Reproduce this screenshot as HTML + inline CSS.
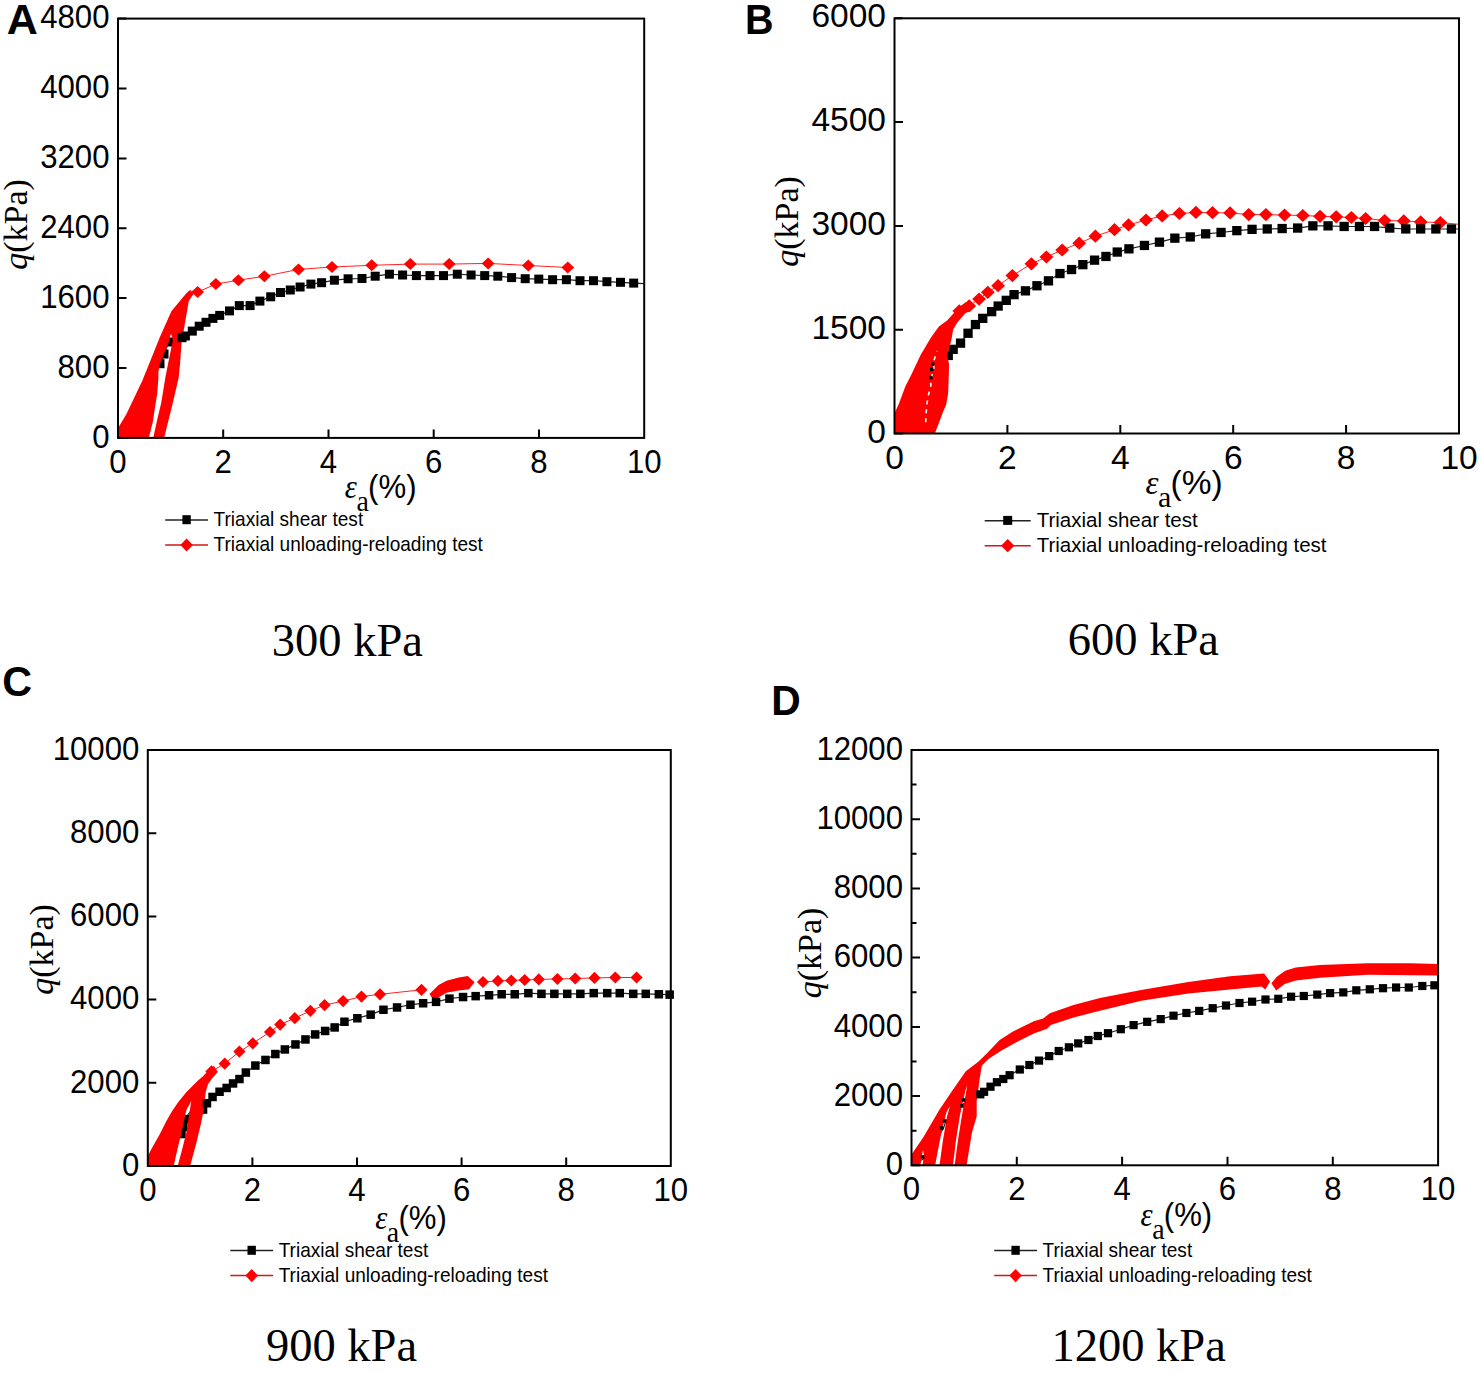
<!DOCTYPE html>
<html><head><meta charset="utf-8"><style>
html,body{margin:0;padding:0;background:#fff;}
svg{display:block;}
</style></head><body>
<svg width="1480" height="1373" viewBox="0 0 1480 1373">
<rect width="1480" height="1373" fill="#fff"/>
<polyline points="118.5,437 130,420 145,395 155,375 160,363.7 164,354 168.8,342 182,337.7 185.4,336 192.3,331.1 199.2,326.2 206,322.3 212.9,318.4 219.7,315.4 229.5,310.9 239.3,305.6 250.1,305.6 259.9,301.1 270.7,296.8 280.5,292.5 290.3,290 300.1,287 310.9,284.1 321.6,282.7 334.4,280.2 348.1,278.8 362,278.5 375.2,276.2 389.4,274.2 402.6,275 416.4,275.6 430,275.6 443.5,275.6 457.3,274.2 471.1,275 484.7,275.6 497.8,276.2 511.6,277.6 525.2,278.7 538.8,279.1 552.6,279.7 566.4,279.7 580,280.7 593.5,280.7 606.9,281.7 620.5,282.3 633.7,283.1 644,283.7" fill="none" stroke="#222" stroke-width="1.2"/>
<g fill="#000"><rect x="155.5" y="359.2" width="9" height="9"/><rect x="159.5" y="349.5" width="9" height="9"/><rect x="164.3" y="337.5" width="9" height="9"/></g>
<g fill="#f00" stroke="none">
<polygon points="118.2,437.9 117.5,429.1 126.2,414.6 142.2,381.1 153.9,351.9 159.7,337.4 171.4,311.2 185.9,293.7 190,290 193.5,294 188.8,301 181.5,343.2 180.1,363.6 178.6,378.1 172.8,402.9 164.1,437.9 153.2,437.9 157.6,418.1 161.2,402.9 165.5,376.7 169.9,354.8 172.8,340.3 171.4,334.5 170.4,334.8 168.8,342 164,354 160,363.7 158.4,371.7 158.4,378.1 157.2,394.1 155.2,406.1 152.8,422.1 148.8,437.9"/>
</g>
<polyline points="190,291 197.7,292 215.8,284.1 238.4,280.2 264.4,276.3 298.5,269.4 332,267 371.7,265.3 410.3,264.1 449.2,264.1 488.1,263.4 528.3,265.5 567.8,267.5" fill="none" stroke="#f22" stroke-width="1"/>
<g fill="#f00"><path d="M197.7 286L204.1 292L197.7 298L191.3 292Z"/><path d="M215.8 278.1L222.2 284.1L215.8 290.1L209.4 284.1Z"/><path d="M238.4 274.2L244.8 280.2L238.4 286.2L232 280.2Z"/><path d="M264.4 270.3L270.8 276.3L264.4 282.3L258 276.3Z"/><path d="M298.5 263.4L304.9 269.4L298.5 275.4L292.1 269.4Z"/><path d="M332 261L338.4 267L332 273L325.6 267Z"/><path d="M371.7 259.3L378.1 265.3L371.7 271.3L365.3 265.3Z"/><path d="M410.3 258.1L416.7 264.1L410.3 270.1L403.9 264.1Z"/><path d="M449.2 258.1L455.6 264.1L449.2 270.1L442.8 264.1Z"/><path d="M488.1 257.4L494.5 263.4L488.1 269.4L481.7 263.4Z"/><path d="M528.3 259.5L534.7 265.5L528.3 271.5L521.9 265.5Z"/><path d="M567.8 261.5L574.2 267.5L567.8 273.5L561.4 267.5Z"/></g>
<g fill="#000"><rect x="177.5" y="333.2" width="9" height="9"/><rect x="180.9" y="331.5" width="9" height="9"/><rect x="187.8" y="326.6" width="9" height="9"/><rect x="194.7" y="321.7" width="9" height="9"/><rect x="201.5" y="317.8" width="9" height="9"/><rect x="208.4" y="313.9" width="9" height="9"/><rect x="215.2" y="310.9" width="9" height="9"/><rect x="225" y="306.4" width="9" height="9"/><rect x="234.8" y="301.1" width="9" height="9"/><rect x="245.6" y="301.1" width="9" height="9"/><rect x="255.4" y="296.6" width="9" height="9"/><rect x="266.2" y="292.3" width="9" height="9"/><rect x="276" y="288" width="9" height="9"/><rect x="285.8" y="285.5" width="9" height="9"/><rect x="295.6" y="282.5" width="9" height="9"/><rect x="306.4" y="279.6" width="9" height="9"/><rect x="317.1" y="278.2" width="9" height="9"/><rect x="329.9" y="275.7" width="9" height="9"/><rect x="343.6" y="274.3" width="9" height="9"/><rect x="357.5" y="274" width="9" height="9"/><rect x="370.7" y="271.7" width="9" height="9"/><rect x="384.9" y="269.7" width="9" height="9"/><rect x="398.1" y="270.5" width="9" height="9"/><rect x="411.9" y="271.1" width="9" height="9"/><rect x="425.5" y="271.1" width="9" height="9"/><rect x="439" y="271.1" width="9" height="9"/><rect x="452.8" y="269.7" width="9" height="9"/><rect x="466.6" y="270.5" width="9" height="9"/><rect x="480.2" y="271.1" width="9" height="9"/><rect x="493.3" y="271.7" width="9" height="9"/><rect x="507.1" y="273.1" width="9" height="9"/><rect x="520.7" y="274.2" width="9" height="9"/><rect x="534.3" y="274.6" width="9" height="9"/><rect x="548.1" y="275.2" width="9" height="9"/><rect x="561.9" y="275.2" width="9" height="9"/><rect x="575.5" y="276.2" width="9" height="9"/><rect x="589" y="276.2" width="9" height="9"/><rect x="602.4" y="277.2" width="9" height="9"/><rect x="616" y="277.8" width="9" height="9"/><rect x="629.2" y="278.6" width="9" height="9"/></g>
<rect x="118" y="18.6" width="526.2" height="419.3" fill="none" stroke="#000" stroke-width="2"/>
<path d="M223.2 437.9V429.4M328.5 437.9V429.4M433.7 437.9V429.4M539 437.9V429.4M118 437.9H126.5M118 368H126.5M118 298.1H126.5M118 228.3H126.5M118 158.4H126.5M118 88.5H126.5M118 18.6H126.5" stroke="#000" stroke-width="2" fill="none"/>
<text transform="translate(109.5 447.5) scale(0.93 1)" text-anchor="end" font-family='"Liberation Sans", sans-serif' font-size="33.5">0</text>
<text transform="translate(109.5 377.6) scale(0.93 1)" text-anchor="end" font-family='"Liberation Sans", sans-serif' font-size="33.5">800</text>
<text transform="translate(109.5 307.7) scale(0.93 1)" text-anchor="end" font-family='"Liberation Sans", sans-serif' font-size="33.5">1600</text>
<text transform="translate(109.5 237.9) scale(0.93 1)" text-anchor="end" font-family='"Liberation Sans", sans-serif' font-size="33.5">2400</text>
<text transform="translate(109.5 168) scale(0.93 1)" text-anchor="end" font-family='"Liberation Sans", sans-serif' font-size="33.5">3200</text>
<text transform="translate(109.5 98.1) scale(0.93 1)" text-anchor="end" font-family='"Liberation Sans", sans-serif' font-size="33.5">4000</text>
<text transform="translate(109.5 28.2) scale(0.93 1)" text-anchor="end" font-family='"Liberation Sans", sans-serif' font-size="33.5">4800</text>
<text transform="translate(118 473.1) scale(0.93 1)" text-anchor="middle" font-family='"Liberation Sans", sans-serif' font-size="33.5">0</text>
<text transform="translate(223.2 473.1) scale(0.93 1)" text-anchor="middle" font-family='"Liberation Sans", sans-serif' font-size="33.5">2</text>
<text transform="translate(328.5 473.1) scale(0.93 1)" text-anchor="middle" font-family='"Liberation Sans", sans-serif' font-size="33.5">4</text>
<text transform="translate(433.7 473.1) scale(0.93 1)" text-anchor="middle" font-family='"Liberation Sans", sans-serif' font-size="33.5">6</text>
<text transform="translate(539 473.1) scale(0.93 1)" text-anchor="middle" font-family='"Liberation Sans", sans-serif' font-size="33.5">8</text>
<text transform="translate(644.2 473.1) scale(0.93 1)" text-anchor="middle" font-family='"Liberation Sans", sans-serif' font-size="33.5">10</text>
<text transform="translate(6.7 33.8) scale(1 1)" font-family='"Liberation Sans", sans-serif' font-weight="bold" font-size="43">A</text>
<text transform="translate(27.2 224.4) rotate(-90)" text-anchor="middle" font-family='"Liberation Serif", serif' font-size="34"><tspan font-style="italic">q</tspan>(kPa)</text>
<g transform="translate(345.5 498.1) scale(0.93 1)">
<text x="-0.7" y="0" font-family='"Liberation Serif", serif' font-size="33" font-style="italic">ε</text>
<text x="11.8" y="13.2" font-family='"Liberation Serif", serif' font-size="30">a</text>
<text x="24.3" y="0" font-family='"Liberation Sans", sans-serif' font-size="33.5">(%)</text>
</g>
<g transform="translate(165.2 520) scale(0.93 1)">
<path d="M0 0H46" stroke="#222" stroke-width="1.5"/>
<g fill="#000"><rect x="18.5" y="-4.8" width="9" height="9"/></g>
<path d="M0 25H46" stroke="#d01818" stroke-width="1.5"/>
<g fill="#f00"><path d="M23 18.4L29.7 25L23 31.6L16.3 25Z"/></g>
<text x="52" y="6.3" font-family='"Liberation Sans", sans-serif' font-size="20.5">Triaxial shear test</text>
<text x="52" y="31.3" font-family='"Liberation Sans", sans-serif' font-size="20.5">Triaxial unloading-reloading test</text>
</g>
<text x="271.8" y="656" font-family='"Liberation Serif", serif' font-size="46.5">300 kPa</text>
<polyline points="894.5,433 905,420 915,400 925,385 930.8,377.7 932,369 934.5,361.6 960.5,343.1 968,333.2 975.4,324.5 982.8,318.3 991.6,311.6 998.1,306 1006.2,300.3 1014,294.6 1025.4,290.9 1037,285.7 1048.4,280.8 1060,273.5 1071.6,269.5 1082.9,264.6 1094.6,260.1 1106,256.5 1117.3,252.1 1129,248.9 1144.4,245.5 1159.5,242.2 1174.9,238.2 1190.3,237 1205.7,233.8 1221.1,232.5 1236.9,230.7 1252.1,229.3 1267.3,229 1282.2,228.6 1297.7,228.1 1312.9,225.9 1328.1,225.9 1344.2,226.5 1359.4,226.5 1374.6,226.5 1389.8,228.1 1405.8,229 1420.7,229 1435.9,229 1451.4,229 1459,229" fill="none" stroke="#222" stroke-width="1.2"/>
<g fill="#000"><rect x="943.6" y="350.8" width="9.3" height="9.3"/><rect x="948.5" y="344.7" width="9.3" height="9.3"/></g>
<g fill="#f00" stroke="none">
<polygon points="894.5,433.5 894.1,414.2 899.2,403 905.3,386.6 911.4,374.4 920.6,355 930.8,337.7 938.9,326.5 947.1,320.4 959.3,307.1 966,302 969.5,311.2 965.4,313.3 957.3,322.4 953.2,329.6 951.2,340.8 947.1,355 949.1,364.2 948.6,381.5 948.1,393.8 946.1,405 943,412.1 934.9,433.5"/>
</g>
<polyline points="925.7,422.3 926.7,405 928.7,393.8 930.8,385.6 930.8,379.5 933.8,368.3 933.8,361.2 936.9,351" fill="none" stroke="#fff" stroke-width="1.6" stroke-dasharray="4 5"/>
<g fill="#000"><rect x="930" y="367.6" width="3.5" height="3.5"/><rect x="929" y="375.8" width="3.5" height="3.5"/><rect x="931" y="362.4" width="3.5" height="3.5"/></g>
<polyline points="959.3,310.9 969.2,305.9 979.1,299.1 987.8,292.3 998.1,285.7 1012.4,275.6 1031.4,263.8 1046.4,257 1062.2,250 1079.2,243.2 1095.4,236.2 1114.5,229.7 1128.6,224.9 1146,220 1162.2,215.9 1179.4,213.5 1195.9,212.4 1212.5,212.7 1230.1,212.9 1248.7,214.6 1265.9,214.6 1284.5,215.1 1302.8,215.5 1320,216.3 1336.2,216.8 1351.4,217.5 1365.6,218.5 1384.7,220.5 1403.8,220.9 1420.7,221.9 1440.4,222.6 1459,224.3" fill="none" stroke="#f22" stroke-width="1"/>
<g fill="#f00"><path d="M959.3 304.3L966.2 310.9L959.3 317.5L952.4 310.9Z"/><path d="M969.2 299.3L976.1 305.9L969.2 312.5L962.3 305.9Z"/><path d="M979.1 292.5L986 299.1L979.1 305.7L972.2 299.1Z"/><path d="M987.8 285.7L994.7 292.3L987.8 298.9L980.9 292.3Z"/><path d="M998.1 279.1L1005 285.7L998.1 292.3L991.2 285.7Z"/><path d="M1012.4 269L1019.3 275.6L1012.4 282.2L1005.5 275.6Z"/><path d="M1031.4 257.2L1038.3 263.8L1031.4 270.4L1024.5 263.8Z"/><path d="M1046.4 250.4L1053.3 257L1046.4 263.6L1039.5 257Z"/><path d="M1062.2 243.4L1069.1 250L1062.2 256.6L1055.3 250Z"/><path d="M1079.2 236.6L1086.1 243.2L1079.2 249.8L1072.3 243.2Z"/><path d="M1095.4 229.6L1102.3 236.2L1095.4 242.8L1088.5 236.2Z"/><path d="M1114.5 223.1L1121.4 229.7L1114.5 236.3L1107.6 229.7Z"/><path d="M1128.6 218.3L1135.5 224.9L1128.6 231.5L1121.7 224.9Z"/><path d="M1146 213.4L1152.9 220L1146 226.6L1139.1 220Z"/><path d="M1162.2 209.3L1169.1 215.9L1162.2 222.5L1155.3 215.9Z"/><path d="M1179.4 206.9L1186.3 213.5L1179.4 220.1L1172.5 213.5Z"/><path d="M1195.9 205.8L1202.8 212.4L1195.9 219L1189 212.4Z"/><path d="M1212.5 206.1L1219.4 212.7L1212.5 219.3L1205.6 212.7Z"/><path d="M1230.1 206.3L1237 212.9L1230.1 219.5L1223.2 212.9Z"/><path d="M1248.7 208L1255.6 214.6L1248.7 221.2L1241.8 214.6Z"/><path d="M1265.9 208L1272.8 214.6L1265.9 221.2L1259 214.6Z"/><path d="M1284.5 208.5L1291.4 215.1L1284.5 221.7L1277.6 215.1Z"/><path d="M1302.8 208.9L1309.7 215.5L1302.8 222.1L1295.9 215.5Z"/><path d="M1320 209.7L1326.9 216.3L1320 222.9L1313.1 216.3Z"/><path d="M1336.2 210.2L1343.1 216.8L1336.2 223.4L1329.3 216.8Z"/><path d="M1351.4 210.9L1358.3 217.5L1351.4 224.1L1344.5 217.5Z"/><path d="M1365.6 211.9L1372.5 218.5L1365.6 225.1L1358.7 218.5Z"/><path d="M1384.7 213.9L1391.6 220.5L1384.7 227.1L1377.8 220.5Z"/><path d="M1403.8 214.3L1410.7 220.9L1403.8 227.5L1396.9 220.9Z"/><path d="M1420.7 215.3L1427.6 221.9L1420.7 228.5L1413.8 221.9Z"/><path d="M1440.4 216L1447.3 222.6L1440.4 229.2L1433.5 222.6Z"/></g>
<g fill="#000"><rect x="955.9" y="338.5" width="9.3" height="9.3"/><rect x="963.4" y="328.6" width="9.3" height="9.3"/><rect x="970.8" y="319.9" width="9.3" height="9.3"/><rect x="978.1" y="313.7" width="9.3" height="9.3"/><rect x="987" y="307" width="9.3" height="9.3"/><rect x="993.5" y="301.4" width="9.3" height="9.3"/><rect x="1001.6" y="295.7" width="9.3" height="9.3"/><rect x="1009.4" y="290" width="9.3" height="9.3"/><rect x="1020.8" y="286.2" width="9.3" height="9.3"/><rect x="1032.3" y="281.1" width="9.3" height="9.3"/><rect x="1043.8" y="276.2" width="9.3" height="9.3"/><rect x="1055.3" y="268.9" width="9.3" height="9.3"/><rect x="1066.9" y="264.9" width="9.3" height="9.3"/><rect x="1078.2" y="260" width="9.3" height="9.3"/><rect x="1089.9" y="255.5" width="9.3" height="9.3"/><rect x="1101.3" y="251.8" width="9.3" height="9.3"/><rect x="1112.6" y="247.4" width="9.3" height="9.3"/><rect x="1124.3" y="244.2" width="9.3" height="9.3"/><rect x="1139.8" y="240.8" width="9.3" height="9.3"/><rect x="1154.8" y="237.5" width="9.3" height="9.3"/><rect x="1170.2" y="233.5" width="9.3" height="9.3"/><rect x="1185.6" y="232.3" width="9.3" height="9.3"/><rect x="1201" y="229.2" width="9.3" height="9.3"/><rect x="1216.4" y="227.8" width="9.3" height="9.3"/><rect x="1232.2" y="226" width="9.3" height="9.3"/><rect x="1247.4" y="224.7" width="9.3" height="9.3"/><rect x="1262.6" y="224.3" width="9.3" height="9.3"/><rect x="1277.5" y="223.9" width="9.3" height="9.3"/><rect x="1293" y="223.4" width="9.3" height="9.3"/><rect x="1308.2" y="221.2" width="9.3" height="9.3"/><rect x="1323.4" y="221.2" width="9.3" height="9.3"/><rect x="1339.5" y="221.8" width="9.3" height="9.3"/><rect x="1354.8" y="221.8" width="9.3" height="9.3"/><rect x="1369.9" y="221.8" width="9.3" height="9.3"/><rect x="1385.1" y="223.4" width="9.3" height="9.3"/><rect x="1401.1" y="224.3" width="9.3" height="9.3"/><rect x="1416" y="224.3" width="9.3" height="9.3"/><rect x="1431.2" y="224.3" width="9.3" height="9.3"/><rect x="1446.8" y="224.3" width="9.3" height="9.3"/></g>
<rect x="894.5" y="18.3" width="564.5" height="415.2" fill="none" stroke="#000" stroke-width="2"/>
<path d="M1007.4 433.5V425M1120.3 433.5V425M1233.2 433.5V425M1346.1 433.5V425M894.5 433.5H903M894.5 329.7H903M894.5 225.9H903M894.5 122.1H903M894.5 18.3H903" stroke="#000" stroke-width="2" fill="none"/>
<text transform="translate(886 442.6) scale(1.0 1)" text-anchor="end" font-family='"Liberation Sans", sans-serif' font-size="33.5">0</text>
<text transform="translate(886 338.8) scale(1.0 1)" text-anchor="end" font-family='"Liberation Sans", sans-serif' font-size="33.5">1500</text>
<text transform="translate(886 235) scale(1.0 1)" text-anchor="end" font-family='"Liberation Sans", sans-serif' font-size="33.5">3000</text>
<text transform="translate(886 131.2) scale(1.0 1)" text-anchor="end" font-family='"Liberation Sans", sans-serif' font-size="33.5">4500</text>
<text transform="translate(886 27.4) scale(1.0 1)" text-anchor="end" font-family='"Liberation Sans", sans-serif' font-size="33.5">6000</text>
<text transform="translate(894.5 468.5) scale(1.0 1)" text-anchor="middle" font-family='"Liberation Sans", sans-serif' font-size="33.5">0</text>
<text transform="translate(1007.4 468.5) scale(1.0 1)" text-anchor="middle" font-family='"Liberation Sans", sans-serif' font-size="33.5">2</text>
<text transform="translate(1120.3 468.5) scale(1.0 1)" text-anchor="middle" font-family='"Liberation Sans", sans-serif' font-size="33.5">4</text>
<text transform="translate(1233.2 468.5) scale(1.0 1)" text-anchor="middle" font-family='"Liberation Sans", sans-serif' font-size="33.5">6</text>
<text transform="translate(1346.1 468.5) scale(1.0 1)" text-anchor="middle" font-family='"Liberation Sans", sans-serif' font-size="33.5">8</text>
<text transform="translate(1459 468.5) scale(1.0 1)" text-anchor="middle" font-family='"Liberation Sans", sans-serif' font-size="33.5">10</text>
<text transform="translate(744.9 34) scale(0.92 1)" font-family='"Liberation Sans", sans-serif' font-weight="bold" font-size="43">B</text>
<text transform="translate(797.6 221.4) rotate(-90)" text-anchor="middle" font-family='"Liberation Serif", serif' font-size="34"><tspan font-style="italic">q</tspan>(kPa)</text>
<g transform="translate(1146.2 493.8) scale(1.0 1)">
<text x="-0.7" y="0" font-family='"Liberation Serif", serif' font-size="33" font-style="italic">ε</text>
<text x="11.8" y="13.2" font-family='"Liberation Serif", serif' font-size="30">a</text>
<text x="24.3" y="0" font-family='"Liberation Sans", sans-serif' font-size="33.5">(%)</text>
</g>
<g transform="translate(984.7 520.7) scale(1.0 1)">
<path d="M0 0H46" stroke="#222" stroke-width="1.5"/>
<g fill="#000"><rect x="18.5" y="-4.8" width="9" height="9"/></g>
<path d="M0 25H46" stroke="#d01818" stroke-width="1.5"/>
<g fill="#f00"><path d="M23 18.4L29.7 25L23 31.6L16.3 25Z"/></g>
<text x="52" y="6.3" font-family='"Liberation Sans", sans-serif' font-size="20.5">Triaxial shear test</text>
<text x="52" y="31.3" font-family='"Liberation Sans", sans-serif' font-size="20.5">Triaxial unloading-reloading test</text>
</g>
<text x="1067.8" y="655.4" font-family='"Liberation Serif", serif' font-size="46.5">600 kPa</text>
<polyline points="148,1165 160,1148 172,1133 183.3,1121.1 190,1112 206.9,1103.2 212.6,1096.9 219.6,1091.8 226.7,1087.9 233,1083.5 239.4,1079 245.8,1072.6 255.3,1065.6 265.5,1059.9 275.4,1054 284.9,1049.4 295.5,1044.4 305.5,1039.5 315.1,1034.5 325.1,1030.9 334.6,1027.4 344.5,1021.7 357.3,1018.2 370.7,1014.6 383.5,1009.7 397,1007.5 410.5,1004.7 423.2,1003.3 436,1001.9 449.5,998.6 463,997 475.6,996.1 489,995.3 501.6,994.3 514.7,994.3 528.4,993.1 541.5,993.9 554.4,993.9 567.3,993.9 580.4,993.9 593.8,993.1 607.2,993.1 619.8,993.1 633.2,993.9 645.8,993.9 658.9,994.3 669.6,994.6" fill="none" stroke="#222" stroke-width="1.2"/>
<g fill="#000"><rect x="181.4" y="1115" width="8.5" height="8.5"/><rect x="179.1" y="1122.8" width="8.5" height="8.5"/><rect x="177.2" y="1129.8" width="8.5" height="8.5"/><rect x="198.8" y="1105.3" width="8.5" height="8.5"/></g>
<g fill="#f00" stroke="none">
<polygon points="147.8,1166 147.6,1156.2 152.8,1146.5 160,1133.7 166.4,1120.9 172,1111.3 178.5,1101.7 186.5,1092 197.7,1080.8 203.3,1076 211.3,1067.2 214,1066 217.7,1072 212.1,1078.4 208.1,1084 205.7,1092.1 204.1,1108.1 200.9,1124.1 196.1,1144.1 190.1,1166 177.7,1166 182.5,1148.1 186.5,1132.1 188.9,1116.1 191.3,1101 190.5,1102.5 186.5,1109.7 183.3,1124.1 180.9,1135.3 177.7,1148.1 173.7,1166"/>
<polygon points="429.5,994.1 438.6,985 446.5,980.7 458.7,977.6 467.8,976.1 474.5,982.2 469,989.2 458.7,990.4 446.5,992.8 439.2,997.1 434.3,1001.4"/>
</g>
<polyline points="211.4,1071.4 224.7,1063.7 239.4,1051.6 252.8,1043.3 270,1032 280.2,1024.6 294.8,1018.2 310.4,1010.8 324.6,1005.1 343.1,1001.1 361.5,996.6 380,994.3 421.5,989.8" fill="none" stroke="#f22" stroke-width="1"/>
<polyline points="483,982 497.9,980.9 511.3,980.5 524.7,980 538.8,979.4 557.4,979 575.2,978.5 594.5,977.9 615.3,977.5 636.6,977.5" fill="none" stroke="#f22" stroke-width="1"/>
<g fill="#f00"><path d="M211.4 1065.3L217.5 1071.4L211.4 1077.5L205.3 1071.4Z"/><path d="M224.7 1057.6L230.8 1063.7L224.7 1069.8L218.6 1063.7Z"/><path d="M239.4 1045.5L245.5 1051.6L239.4 1057.7L233.3 1051.6Z"/><path d="M252.8 1037.2L258.9 1043.3L252.8 1049.4L246.7 1043.3Z"/><path d="M270 1025.9L276.1 1032L270 1038.1L263.9 1032Z"/><path d="M280.2 1018.5L286.3 1024.6L280.2 1030.7L274.1 1024.6Z"/><path d="M294.8 1012.1L300.9 1018.2L294.8 1024.3L288.7 1018.2Z"/><path d="M310.4 1004.7L316.5 1010.8L310.4 1016.9L304.3 1010.8Z"/><path d="M324.6 999L330.7 1005.1L324.6 1011.2L318.5 1005.1Z"/><path d="M343.1 995L349.2 1001.1L343.1 1007.2L337 1001.1Z"/><path d="M361.5 990.5L367.6 996.6L361.5 1002.7L355.4 996.6Z"/><path d="M380 988.2L386.1 994.3L380 1000.4L373.9 994.3Z"/><path d="M421.5 983.7L427.6 989.8L421.5 995.9L415.4 989.8Z"/><path d="M483 975.9L489.1 982L483 988.1L476.9 982Z"/><path d="M497.9 974.8L504 980.9L497.9 987L491.8 980.9Z"/><path d="M511.3 974.4L517.4 980.5L511.3 986.6L505.2 980.5Z"/><path d="M524.7 973.9L530.8 980L524.7 986.1L518.6 980Z"/><path d="M538.8 973.3L544.9 979.4L538.8 985.5L532.7 979.4Z"/><path d="M557.4 972.9L563.5 979L557.4 985.1L551.3 979Z"/><path d="M575.2 972.4L581.3 978.5L575.2 984.6L569.1 978.5Z"/><path d="M594.5 971.8L600.6 977.9L594.5 984L588.4 977.9Z"/><path d="M615.3 971.4L621.4 977.5L615.3 983.6L609.2 977.5Z"/><path d="M636.6 971.4L642.7 977.5L636.6 983.6L630.5 977.5Z"/></g>
<g fill="#000"><rect x="202.7" y="1099" width="8.5" height="8.5"/><rect x="208.3" y="1092.7" width="8.5" height="8.5"/><rect x="215.3" y="1087.5" width="8.5" height="8.5"/><rect x="222.4" y="1083.7" width="8.5" height="8.5"/><rect x="228.8" y="1079.2" width="8.5" height="8.5"/><rect x="235.2" y="1074.8" width="8.5" height="8.5"/><rect x="241.6" y="1068.3" width="8.5" height="8.5"/><rect x="251.1" y="1061.3" width="8.5" height="8.5"/><rect x="261.2" y="1055.7" width="8.5" height="8.5"/><rect x="271.1" y="1049.8" width="8.5" height="8.5"/><rect x="280.6" y="1045.2" width="8.5" height="8.5"/><rect x="291.2" y="1040.2" width="8.5" height="8.5"/><rect x="301.2" y="1035.2" width="8.5" height="8.5"/><rect x="310.9" y="1030.2" width="8.5" height="8.5"/><rect x="320.9" y="1026.7" width="8.5" height="8.5"/><rect x="330.4" y="1023.2" width="8.5" height="8.5"/><rect x="340.2" y="1017.5" width="8.5" height="8.5"/><rect x="353.1" y="1014" width="8.5" height="8.5"/><rect x="366.4" y="1010.4" width="8.5" height="8.5"/><rect x="379.2" y="1005.5" width="8.5" height="8.5"/><rect x="392.8" y="1003.2" width="8.5" height="8.5"/><rect x="406.2" y="1000.5" width="8.5" height="8.5"/><rect x="418.9" y="999" width="8.5" height="8.5"/><rect x="431.8" y="997.6" width="8.5" height="8.5"/><rect x="445.2" y="994.4" width="8.5" height="8.5"/><rect x="458.8" y="992.8" width="8.5" height="8.5"/><rect x="471.4" y="991.9" width="8.5" height="8.5"/><rect x="484.8" y="991" width="8.5" height="8.5"/><rect x="497.4" y="990" width="8.5" height="8.5"/><rect x="510.5" y="990" width="8.5" height="8.5"/><rect x="524.1" y="988.9" width="8.5" height="8.5"/><rect x="537.2" y="989.6" width="8.5" height="8.5"/><rect x="550.1" y="989.6" width="8.5" height="8.5"/><rect x="563" y="989.6" width="8.5" height="8.5"/><rect x="576.1" y="989.6" width="8.5" height="8.5"/><rect x="589.5" y="988.9" width="8.5" height="8.5"/><rect x="603" y="988.9" width="8.5" height="8.5"/><rect x="615.5" y="988.9" width="8.5" height="8.5"/><rect x="629" y="989.6" width="8.5" height="8.5"/><rect x="641.5" y="989.6" width="8.5" height="8.5"/><rect x="654.6" y="990" width="8.5" height="8.5"/><rect x="665.4" y="990.4" width="8.5" height="8.5"/></g>
<rect x="147.8" y="750" width="523" height="416" fill="none" stroke="#000" stroke-width="2"/>
<path d="M252.4 1166V1157.5M357 1166V1157.5M461.6 1166V1157.5M566.2 1166V1157.5M147.8 1166H156.3M147.8 1082.8H156.3M147.8 999.6H156.3M147.8 916.4H156.3M147.8 833.2H156.3M147.8 750H156.3" stroke="#000" stroke-width="2" fill="none"/>
<text transform="translate(139.3 1175.8) scale(0.93 1)" text-anchor="end" font-family='"Liberation Sans", sans-serif' font-size="33.5">0</text>
<text transform="translate(139.3 1092.6) scale(0.93 1)" text-anchor="end" font-family='"Liberation Sans", sans-serif' font-size="33.5">2000</text>
<text transform="translate(139.3 1009.4) scale(0.93 1)" text-anchor="end" font-family='"Liberation Sans", sans-serif' font-size="33.5">4000</text>
<text transform="translate(139.3 926.2) scale(0.93 1)" text-anchor="end" font-family='"Liberation Sans", sans-serif' font-size="33.5">6000</text>
<text transform="translate(139.3 843) scale(0.93 1)" text-anchor="end" font-family='"Liberation Sans", sans-serif' font-size="33.5">8000</text>
<text transform="translate(139.3 759.8) scale(0.93 1)" text-anchor="end" font-family='"Liberation Sans", sans-serif' font-size="33.5">10000</text>
<text transform="translate(147.8 1201.4) scale(0.93 1)" text-anchor="middle" font-family='"Liberation Sans", sans-serif' font-size="33.5">0</text>
<text transform="translate(252.4 1201.4) scale(0.93 1)" text-anchor="middle" font-family='"Liberation Sans", sans-serif' font-size="33.5">2</text>
<text transform="translate(357 1201.4) scale(0.93 1)" text-anchor="middle" font-family='"Liberation Sans", sans-serif' font-size="33.5">4</text>
<text transform="translate(461.6 1201.4) scale(0.93 1)" text-anchor="middle" font-family='"Liberation Sans", sans-serif' font-size="33.5">6</text>
<text transform="translate(566.2 1201.4) scale(0.93 1)" text-anchor="middle" font-family='"Liberation Sans", sans-serif' font-size="33.5">8</text>
<text transform="translate(670.8 1201.4) scale(0.93 1)" text-anchor="middle" font-family='"Liberation Sans", sans-serif' font-size="33.5">10</text>
<text transform="translate(2.2 696) scale(0.96 1)" font-family='"Liberation Sans", sans-serif' font-weight="bold" font-size="43">C</text>
<text transform="translate(53 949.5) rotate(-90)" text-anchor="middle" font-family='"Liberation Serif", serif' font-size="34"><tspan font-style="italic">q</tspan>(kPa)</text>
<g transform="translate(375.9 1228.9) scale(0.93 1)">
<text x="-0.7" y="0" font-family='"Liberation Serif", serif' font-size="33" font-style="italic">ε</text>
<text x="11.8" y="13.2" font-family='"Liberation Serif", serif' font-size="30">a</text>
<text x="24.3" y="0" font-family='"Liberation Sans", sans-serif' font-size="33.5">(%)</text>
</g>
<g transform="translate(230.3 1250.6) scale(0.93 1)">
<path d="M0 0H46" stroke="#222" stroke-width="1.5"/>
<g fill="#000"><rect x="18.5" y="-4.8" width="9" height="9"/></g>
<path d="M0 25H46" stroke="#d01818" stroke-width="1.5"/>
<g fill="#f00"><path d="M23 18.4L29.7 25L23 31.6L16.3 25Z"/></g>
<text x="52" y="6.3" font-family='"Liberation Sans", sans-serif' font-size="20.5">Triaxial shear test</text>
<text x="52" y="31.3" font-family='"Liberation Sans", sans-serif' font-size="20.5">Triaxial unloading-reloading test</text>
</g>
<text x="265.9" y="1361" font-family='"Liberation Serif", serif' font-size="46.5">900 kPa</text>
<polyline points="911.5,1165 923,1159.4 933,1145 943.3,1128.8 945.9,1121.1 955,1112 962.5,1104.5 972,1098 980.3,1094.3 984.1,1091.8 990.5,1086.7 996.9,1082.2 1003.3,1079 1009.6,1075.2 1019.8,1069.5 1029.4,1065 1039,1060.6 1049.2,1056.1 1058.7,1051 1068.9,1047.3 1078.2,1043.4 1088.4,1040 1097.8,1036 1108,1033.2 1120.8,1029.2 1133.6,1025.1 1147.2,1021.8 1160.7,1019.1 1173.5,1015.7 1186.4,1013 1199.2,1010.9 1212.7,1008.2 1226,1005.5 1239.5,1003 1252.1,1001.7 1265.5,999.5 1278.3,998.8 1291.1,996.7 1303.8,996 1317.3,994.6 1330.1,993.1 1343.3,992.4 1356.3,990.3 1369.8,989.3 1383,988.2 1396.1,987.5 1408.8,987.5 1422.3,986 1434.4,985.3" fill="none" stroke="#222" stroke-width="1.2"/>
<g fill="#000"></g>
<g fill="#f00" stroke="none">
<polygon points="911.5,1165.3 911.7,1154.2 923.5,1137 939.1,1110.3 951.7,1091.5 965.8,1071.2 978.3,1061.8 987.7,1052.4 999.7,1040.1 1013,1031.6 1033.8,1021.2 1043.2,1018.4 1049.9,1013.2 1073.5,1005.1 1100,998 1141.1,990 1188.4,981.9 1230,976.2 1264.1,973.4 1270.1,981.6 1265.3,989.5 1261.6,986.5 1230,989.5 1188.4,993.4 1141.1,1000.8 1100,1010.8 1073.5,1017.4 1050.8,1025 1047,1028.8 1033.8,1033.5 1016.8,1042 1001.6,1050.5 988.4,1059.1 981.8,1065.7 979.9,1077.4 976.7,1100.9 976.7,1116.6 972,1132.3 966.6,1165.3 954.6,1165.3 958,1140 962,1115 967.3,1085.3 965.5,1090 960,1115 956,1140 953,1165.3 939.5,1165.3 943,1140 947,1116.6 950,1106 946.5,1112 942,1130 938,1150 935.2,1165.3 922.5,1165.3 924,1155 923,1150 921.5,1158 920.5,1165.3"/>
<polygon points="1276.2,990.5 1271.4,983.2 1276.8,976.8 1285.3,970.7 1295.7,967.6 1320,964.9 1367.7,963.3 1410.3,963.3 1438,964 1438,975.4 1367.7,974.7 1320,977.7 1295.7,980.4 1284.7,984.1"/>
</g>
<g fill="#000"><rect x="920.8" y="1155.2" width="3.5" height="3.5"/><rect x="939.8" y="1126.2" width="3.5" height="3.5"/><rect x="942.8" y="1119.2" width="3.5" height="3.5"/><rect x="961.8" y="1098.2" width="3.5" height="3.5"/><rect x="960.2" y="1104.2" width="3.5" height="3.5"/></g>
<g fill="#f00"></g>
<g fill="#000"><rect x="976.2" y="1090.2" width="8.2" height="8.2"/><rect x="980" y="1087.7" width="8.2" height="8.2"/><rect x="986.4" y="1082.6" width="8.2" height="8.2"/><rect x="992.8" y="1078.1" width="8.2" height="8.2"/><rect x="999.2" y="1074.9" width="8.2" height="8.2"/><rect x="1005.5" y="1071.1" width="8.2" height="8.2"/><rect x="1015.7" y="1065.4" width="8.2" height="8.2"/><rect x="1025.3" y="1060.9" width="8.2" height="8.2"/><rect x="1034.9" y="1056.5" width="8.2" height="8.2"/><rect x="1045.1" y="1052" width="8.2" height="8.2"/><rect x="1054.6" y="1046.9" width="8.2" height="8.2"/><rect x="1064.8" y="1043.2" width="8.2" height="8.2"/><rect x="1074.1" y="1039.3" width="8.2" height="8.2"/><rect x="1084.3" y="1035.9" width="8.2" height="8.2"/><rect x="1093.7" y="1031.9" width="8.2" height="8.2"/><rect x="1103.9" y="1029.1" width="8.2" height="8.2"/><rect x="1116.7" y="1025.1" width="8.2" height="8.2"/><rect x="1129.5" y="1021" width="8.2" height="8.2"/><rect x="1143.1" y="1017.7" width="8.2" height="8.2"/><rect x="1156.6" y="1015" width="8.2" height="8.2"/><rect x="1169.4" y="1011.6" width="8.2" height="8.2"/><rect x="1182.3" y="1008.9" width="8.2" height="8.2"/><rect x="1195.1" y="1006.8" width="8.2" height="8.2"/><rect x="1208.6" y="1004.1" width="8.2" height="8.2"/><rect x="1221.9" y="1001.4" width="8.2" height="8.2"/><rect x="1235.4" y="998.9" width="8.2" height="8.2"/><rect x="1248" y="997.6" width="8.2" height="8.2"/><rect x="1261.4" y="995.4" width="8.2" height="8.2"/><rect x="1274.2" y="994.7" width="8.2" height="8.2"/><rect x="1287" y="992.6" width="8.2" height="8.2"/><rect x="1299.7" y="991.9" width="8.2" height="8.2"/><rect x="1313.2" y="990.5" width="8.2" height="8.2"/><rect x="1326" y="989" width="8.2" height="8.2"/><rect x="1339.2" y="988.3" width="8.2" height="8.2"/><rect x="1352.2" y="986.2" width="8.2" height="8.2"/><rect x="1365.7" y="985.2" width="8.2" height="8.2"/><rect x="1378.9" y="984.1" width="8.2" height="8.2"/><rect x="1392" y="983.4" width="8.2" height="8.2"/><rect x="1404.7" y="983.4" width="8.2" height="8.2"/><rect x="1418.2" y="981.9" width="8.2" height="8.2"/><rect x="1430.3" y="981.2" width="8.2" height="8.2"/></g>
<rect x="911.5" y="750" width="526.6" height="415.3" fill="none" stroke="#000" stroke-width="2"/>
<path d="M1016.8 1165.3V1156.8M1122.1 1165.3V1156.8M1227.5 1165.3V1156.8M1332.8 1165.3V1156.8M911.5 1165.3H920M911.5 1096.1H920M911.5 1026.9H920M911.5 957.6H920M911.5 888.4H920M911.5 819.2H920M911.5 750H920M911.5 1130.7H916.5M911.5 1061.5H916.5M911.5 992.2H916.5M911.5 923H916.5M911.5 853.8H916.5M911.5 784.6H916.5" stroke="#000" stroke-width="2" fill="none"/>
<text transform="translate(903 1175.1) scale(0.93 1)" text-anchor="end" font-family='"Liberation Sans", sans-serif' font-size="33.5">0</text>
<text transform="translate(903 1105.9) scale(0.93 1)" text-anchor="end" font-family='"Liberation Sans", sans-serif' font-size="33.5">2000</text>
<text transform="translate(903 1036.7) scale(0.93 1)" text-anchor="end" font-family='"Liberation Sans", sans-serif' font-size="33.5">4000</text>
<text transform="translate(903 967.4) scale(0.93 1)" text-anchor="end" font-family='"Liberation Sans", sans-serif' font-size="33.5">6000</text>
<text transform="translate(903 898.2) scale(0.93 1)" text-anchor="end" font-family='"Liberation Sans", sans-serif' font-size="33.5">8000</text>
<text transform="translate(903 829) scale(0.93 1)" text-anchor="end" font-family='"Liberation Sans", sans-serif' font-size="33.5">10000</text>
<text transform="translate(903 759.8) scale(0.93 1)" text-anchor="end" font-family='"Liberation Sans", sans-serif' font-size="33.5">12000</text>
<text transform="translate(911.5 1200.1) scale(0.93 1)" text-anchor="middle" font-family='"Liberation Sans", sans-serif' font-size="33.5">0</text>
<text transform="translate(1016.8 1200.1) scale(0.93 1)" text-anchor="middle" font-family='"Liberation Sans", sans-serif' font-size="33.5">2</text>
<text transform="translate(1122.1 1200.1) scale(0.93 1)" text-anchor="middle" font-family='"Liberation Sans", sans-serif' font-size="33.5">4</text>
<text transform="translate(1227.5 1200.1) scale(0.93 1)" text-anchor="middle" font-family='"Liberation Sans", sans-serif' font-size="33.5">6</text>
<text transform="translate(1332.8 1200.1) scale(0.93 1)" text-anchor="middle" font-family='"Liberation Sans", sans-serif' font-size="33.5">8</text>
<text transform="translate(1438.1 1200.1) scale(0.93 1)" text-anchor="middle" font-family='"Liberation Sans", sans-serif' font-size="33.5">10</text>
<text transform="translate(771.3 715.4) scale(0.95 1)" font-family='"Liberation Sans", sans-serif' font-weight="bold" font-size="43">D</text>
<text transform="translate(820.8 953) rotate(-90)" text-anchor="middle" font-family='"Liberation Serif", serif' font-size="34"><tspan font-style="italic">q</tspan>(kPa)</text>
<g transform="translate(1141.2 1225.8) scale(0.93 1)">
<text x="-0.7" y="0" font-family='"Liberation Serif", serif' font-size="33" font-style="italic">ε</text>
<text x="11.8" y="13.2" font-family='"Liberation Serif", serif' font-size="30">a</text>
<text x="24.3" y="0" font-family='"Liberation Sans", sans-serif' font-size="33.5">(%)</text>
</g>
<g transform="translate(994.2 1250.6) scale(0.93 1)">
<path d="M0 0H46" stroke="#222" stroke-width="1.5"/>
<g fill="#000"><rect x="18.5" y="-4.8" width="9" height="9"/></g>
<path d="M0 25H46" stroke="#d01818" stroke-width="1.5"/>
<g fill="#f00"><path d="M23 18.4L29.7 25L23 31.6L16.3 25Z"/></g>
<text x="52" y="6.3" font-family='"Liberation Sans", sans-serif' font-size="20.5">Triaxial shear test</text>
<text x="52" y="31.3" font-family='"Liberation Sans", sans-serif' font-size="20.5">Triaxial unloading-reloading test</text>
</g>
<text x="1051.4" y="1361.4" font-family='"Liberation Serif", serif' font-size="46.5">1200 kPa</text>
</svg></body></html>
